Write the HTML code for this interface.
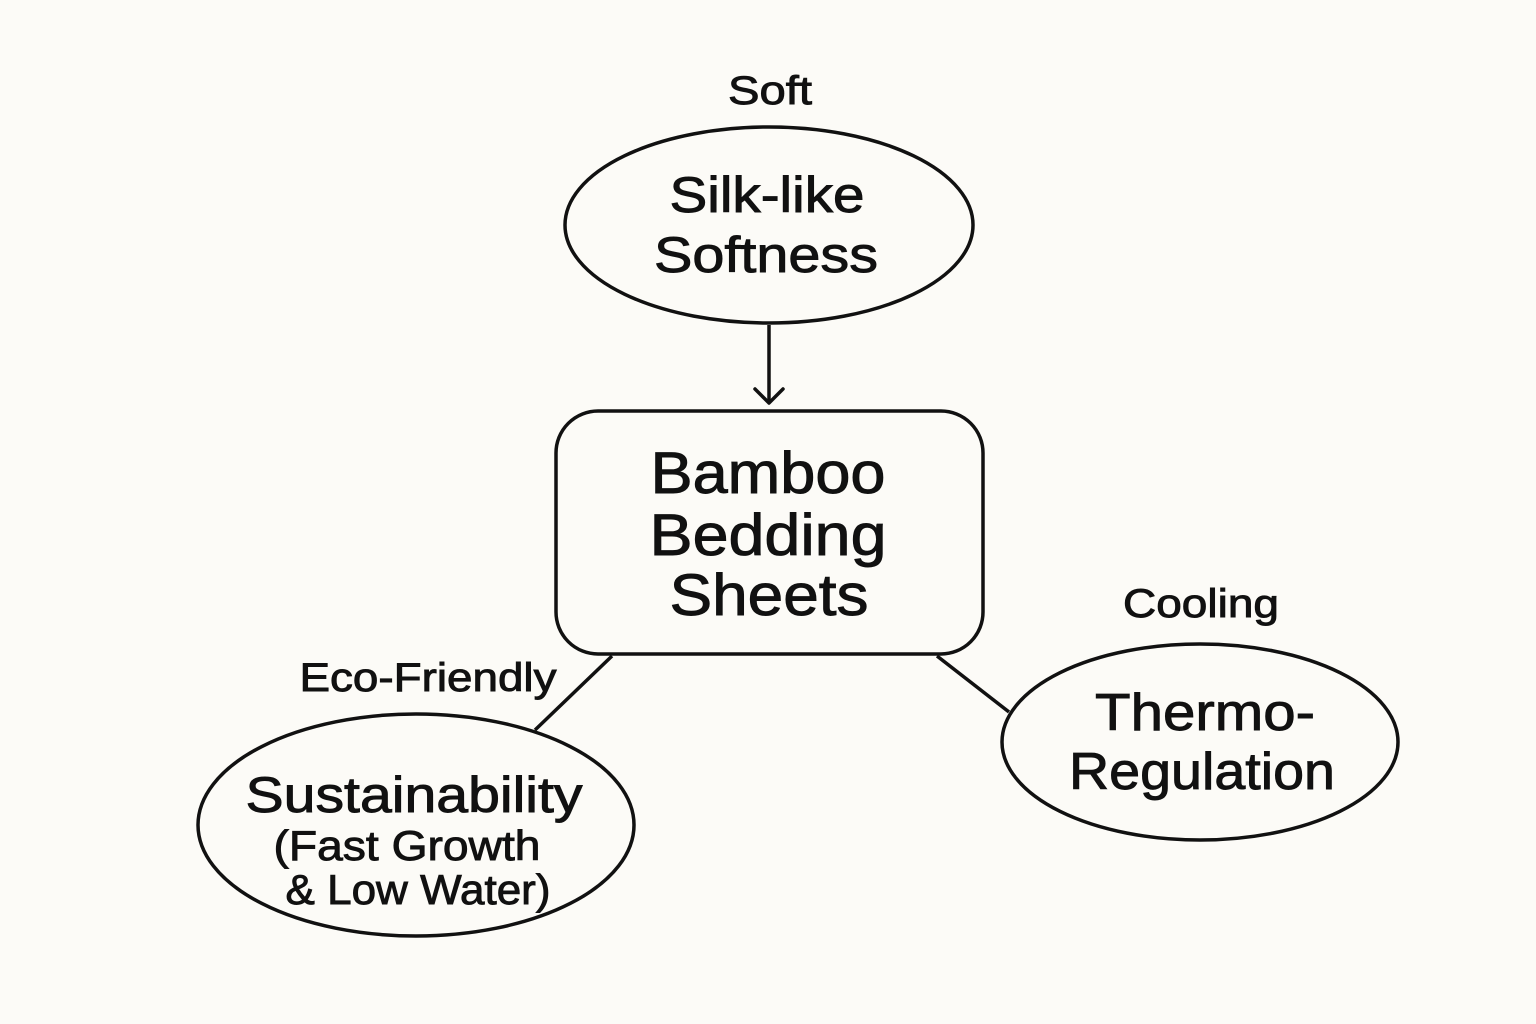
<!DOCTYPE html>
<html><head><style>
html,body{margin:0;padding:0;background:#fcfbf7;}
svg{display:block;}
text{font-family:"Liberation Sans",sans-serif;fill:#111;stroke:#111;stroke-width:0.9;text-anchor:middle;}
</style></head><body>
<svg width="1536" height="1024" viewBox="0 0 1536 1024">
<rect width="1536" height="1024" fill="#fcfbf7"/>
<g fill="none" stroke="#111" stroke-width="3.5">
<ellipse cx="769" cy="225" rx="204" ry="98"/>
<line x1="769" y1="325" x2="769" y2="402"/>
<polyline points="755,389 769,403 783,389" stroke-linecap="round" stroke-linejoin="round"/>
<rect x="556" y="411" width="427" height="243" rx="42"/>
<line x1="612" y1="656" x2="535" y2="730"/>
<ellipse cx="416" cy="825" rx="218" ry="111"/>
<line x1="937" y1="656" x2="1009" y2="712"/>
<ellipse cx="1200" cy="742" rx="198" ry="98"/>
</g>
<g lengthAdjust="spacingAndGlyphs">
<text x="770" y="104" font-size="40" textLength="84" lengthAdjust="spacingAndGlyphs">Soft</text>
<text x="767" y="212" font-size="50" textLength="195" lengthAdjust="spacingAndGlyphs">Silk-like</text>
<text x="766" y="272" font-size="50" textLength="224" lengthAdjust="spacingAndGlyphs">Softness</text>
<text x="768" y="493" font-size="58" textLength="235" lengthAdjust="spacingAndGlyphs">Bamboo</text>
<text x="768" y="555" font-size="58" textLength="237" lengthAdjust="spacingAndGlyphs">Bedding</text>
<text x="769" y="615" font-size="58" textLength="199" lengthAdjust="spacingAndGlyphs">Sheets</text>
<text x="428" y="691" font-size="40" textLength="257" lengthAdjust="spacingAndGlyphs">Eco-Friendly</text>
<text x="414" y="812" font-size="50" textLength="337" lengthAdjust="spacingAndGlyphs">Sustainability</text>
<text x="407" y="860" font-size="42" textLength="267" lengthAdjust="spacingAndGlyphs">(Fast Growth</text>
<text x="418" y="904" font-size="42" textLength="265" lengthAdjust="spacingAndGlyphs">&amp; Low Water)</text>
<text x="1201" y="617" font-size="40" textLength="156" lengthAdjust="spacingAndGlyphs">Cooling</text>
<text x="1205" y="730" font-size="52" textLength="220" lengthAdjust="spacingAndGlyphs">Thermo-</text>
<text x="1202" y="789" font-size="52" textLength="266" lengthAdjust="spacingAndGlyphs">Regulation</text>
</g>
</svg>
</body></html>
